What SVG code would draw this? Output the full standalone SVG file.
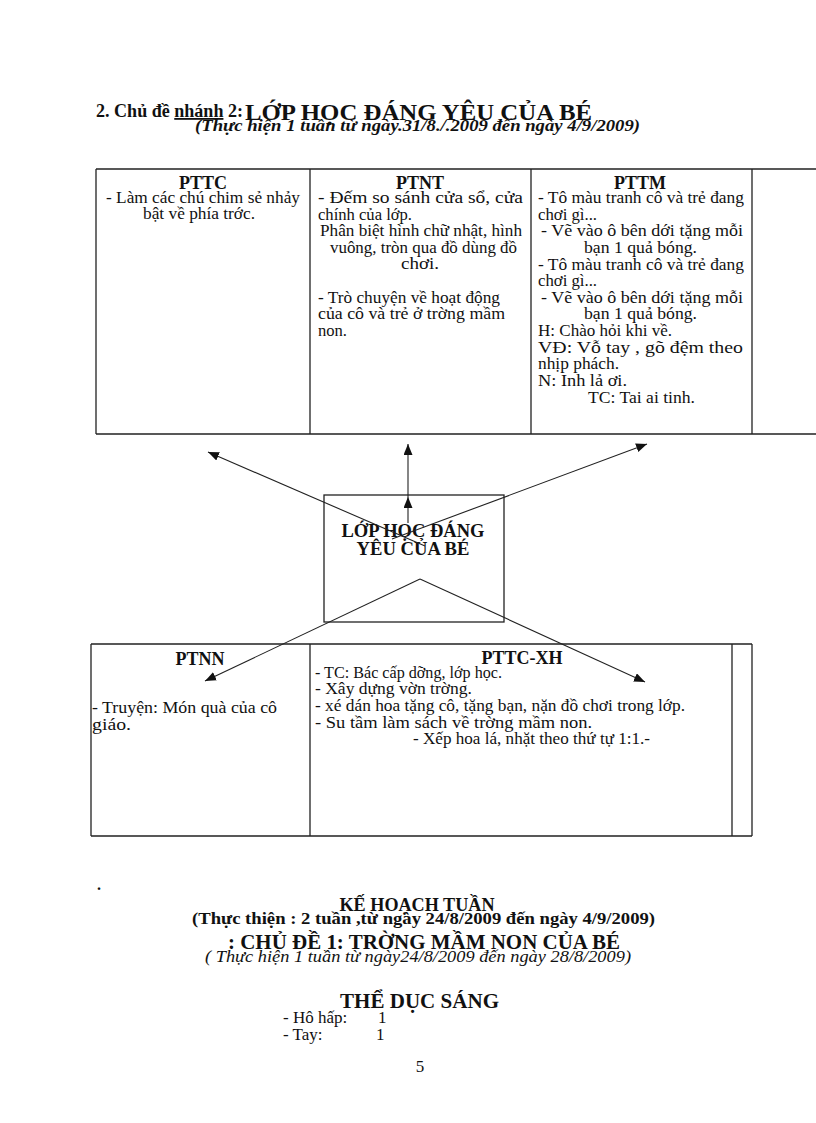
<svg xmlns="http://www.w3.org/2000/svg" width="816" height="1123" viewBox="0 0 816 1123">
<style>
.t{font-family:"Liberation Serif","Times New Roman",serif;font-size:16px;fill:#111}
.h{font-family:"Liberation Serif","Times New Roman",serif;font-weight:bold;fill:#111}
.i{font-family:"Liberation Serif","Times New Roman",serif;font-style:italic;fill:#111}
.n{font-family:"Liberation Serif","Times New Roman",serif;font-size:17px;fill:#111}
.b{fill:none;stroke:#222;stroke-width:1.3}
.c{stroke:#222;stroke-width:1.1;fill:none}
</style>
<defs>
<marker id="ah" markerUnits="userSpaceOnUse" markerWidth="12" markerHeight="10" refX="11" refY="4.5" orient="auto">
<path d="M0,0 L11,4.5 L0,9 Z" fill="#111"/>
</marker>
</defs>
<rect width="816" height="1123" fill="#fff"/>

<g id="title">
<text class="h" x="96" y="117" font-size="18" textLength="147" lengthAdjust="spacingAndGlyphs">2. Chủ đề <tspan text-decoration="underline">nhánh</tspan> 2:</text>
<text class="h" x="245" y="120" font-size="24" textLength="347" lengthAdjust="spacingAndGlyphs">LỚP HỌC ĐÁNG YÊU CỦA BÉ</text>
<text class="i" x="195" y="131" font-size="17" font-weight="bold" textLength="445" lengthAdjust="spacingAndGlyphs">(Thực hiện 1 tuần từ ngày.31/8./.2009  đến ngày  4/9/2009)</text>
</g>

<g id="top-table">
<path class="b" d="M96,169 H816 M96,434 H816 M96,169 V434 M310,169 V434 M531,169 V434 M752,169 V434"/>
</g>

<g id="node-pttc">
<text class="h" x="203" y="189" font-size="18" text-anchor="middle">PTTC</text>
<text class="t" x="106" y="203" textLength="194" lengthAdjust="spacingAndGlyphs">- Làm các chú chim sẻ nhảy</text>
<text class="t" x="143" y="219" textLength="112" lengthAdjust="spacingAndGlyphs">bật về phía trớc.</text>
</g>

<g id="node-ptnt">
<text class="h" x="420" y="189" font-size="18" text-anchor="middle">PTNT</text>
<text class="t" x="318" y="203" textLength="205" lengthAdjust="spacingAndGlyphs">- Đếm  so  sánh  cửa  sổ,  cửa</text>
<text class="t" x="318" y="220" textLength="94" lengthAdjust="spacingAndGlyphs">chính của lớp.</text>
<text class="t" x="320" y="236" textLength="202" lengthAdjust="spacingAndGlyphs">Phân biệt hình chữ nhật, hình</text>
<text class="t" x="330" y="253" textLength="187" lengthAdjust="spacingAndGlyphs">vuông, tròn qua đồ dùng đồ</text>
<text class="t" x="401" y="269" textLength="38" lengthAdjust="spacingAndGlyphs">chơi.</text>
<text class="t" x="318" y="303" textLength="182" lengthAdjust="spacingAndGlyphs">- Trò chuyện về hoạt động</text>
<text class="t" x="318" y="319" textLength="187" lengthAdjust="spacingAndGlyphs">của cô và trẻ ở trờng    mầm</text>
<text class="t" x="318" y="336" textLength="29" lengthAdjust="spacingAndGlyphs">non.</text>
</g>

<g id="node-pttm">
<text class="h" x="640" y="189" font-size="18" text-anchor="middle">PTTM</text>
<text class="t" x="538" y="203" textLength="206" lengthAdjust="spacingAndGlyphs">- Tô màu tranh cô và trẻ đang</text>
<text class="t" x="538" y="220" textLength="59" lengthAdjust="spacingAndGlyphs">chơi gì...</text>
<text class="t" x="541" y="236" textLength="202" lengthAdjust="spacingAndGlyphs">- Vẽ vào ô bên dới   tặng mỗi</text>
<text class="t" x="584" y="253" textLength="113" lengthAdjust="spacingAndGlyphs">bạn 1 quả bóng.</text>
<text class="t" x="538" y="270" textLength="206" lengthAdjust="spacingAndGlyphs">- Tô màu tranh cô và trẻ đang</text>
<text class="t" x="538" y="286" textLength="59" lengthAdjust="spacingAndGlyphs">chơi gì...</text>
<text class="t" x="541" y="303" textLength="202" lengthAdjust="spacingAndGlyphs">- Vẽ vào ô bên dới   tặng mỗi</text>
<text class="t" x="584" y="319" textLength="113" lengthAdjust="spacingAndGlyphs">bạn 1 quả bóng.</text>
<text class="t" x="538" y="336" textLength="134" lengthAdjust="spacingAndGlyphs">H: Chào hỏi khi về.</text>
<text class="t" x="538" y="353" textLength="205" lengthAdjust="spacingAndGlyphs">VĐ:  Vỗ  tay  ,  gõ  đệm  theo</text>
<text class="t" x="538" y="369" textLength="81" lengthAdjust="spacingAndGlyphs">nhịp phách.</text>
<text class="t" x="538" y="386" textLength="89" lengthAdjust="spacingAndGlyphs">N: Inh lả ơi.</text>
<text class="t" x="588" y="403" textLength="107" lengthAdjust="spacingAndGlyphs">TC: Tai ai tinh.</text>
</g>

<g id="node-center">
<rect class="b" x="324" y="495" width="180" height="127"/>
<text class="h" x="413" y="537" font-size="18" text-anchor="middle" textLength="143" lengthAdjust="spacingAndGlyphs">LỚP HỌC ĐÁNG</text>
<text class="h" x="413" y="555" font-size="18" text-anchor="middle" textLength="113" lengthAdjust="spacingAndGlyphs">YÊU CỦA BÉ</text>
</g>

<g id="bottom-table">
<path class="b" d="M91,644 H752 M91,836 H752 M91,644 V836 M310,644 V836 M732,644 V836 M752,644 V836"/>
</g>

<g id="node-ptnn">
<text class="h" x="200" y="665" font-size="18" text-anchor="middle">PTNN</text>
<text class="t" x="92" y="713" textLength="185" lengthAdjust="spacingAndGlyphs">- Truyện: Món quà của cô</text>
<text class="t" x="92" y="730" textLength="39" lengthAdjust="spacingAndGlyphs">giáo.</text>
</g>

<g id="node-pttcxh">
<text class="h" x="522" y="664" font-size="18" text-anchor="middle">PTTC-XH</text>
<text class="t" x="315" y="678" textLength="187" lengthAdjust="spacingAndGlyphs">- TC: Bác cấp dỡng,    lớp học.</text>
<text class="t" x="315" y="694" textLength="157" lengthAdjust="spacingAndGlyphs">- Xây dựng  vờn    trờng.</text>
<text class="t" x="315" y="711" textLength="370" lengthAdjust="spacingAndGlyphs">- xé dán hoa tặng cô, tặng bạn, nặn đồ chơi trong lớp.</text>
<text class="t" x="315" y="728" textLength="277" lengthAdjust="spacingAndGlyphs">- Su    tầm làm sách về trờng    mầm non.</text>
<text class="t" x="413" y="744" textLength="237" lengthAdjust="spacingAndGlyphs">- Xếp hoa lá, nhặt theo thứ tự 1:1.-</text>
</g>

<g id="connectors">
<line class="c" x1="425" y1="546" x2="208" y2="452" marker-end="url(#ah)"/>
<line class="c" x1="392" y1="539" x2="647" y2="444" marker-end="url(#ah)"/>
<line class="c" x1="408" y1="523" x2="408" y2="497" marker-end="url(#ah)"/>
<line class="c" x1="408" y1="497" x2="408" y2="444" marker-end="url(#ah)"/>
<line class="c" x1="420" y1="579" x2="205" y2="681" marker-end="url(#ah)"/>
<line class="c" x1="420" y1="579" x2="645" y2="682" marker-end="url(#ah)"/>
</g>

<g id="footer">
<text class="h" x="97" y="890" font-size="16">.</text>
<text class="h" x="417" y="911" font-size="19" text-anchor="middle" textLength="155" lengthAdjust="spacingAndGlyphs">KẾ HOẠCH TUẦN</text>
<text class="h" x="192" y="924" font-size="17" textLength="463" lengthAdjust="spacingAndGlyphs">(Thực thiện : 2 tuần ,từ ngày 24/8/2009 đến ngày 4/9/2009)</text>
<text class="h" x="228" y="949" font-size="21" textLength="392" lengthAdjust="spacingAndGlyphs">: CHỦ ĐỀ 1: TRỜNG    MẦM NON CỦA BÉ</text>
<text class="i" x="205" y="962" font-size="17" textLength="426" lengthAdjust="spacingAndGlyphs">( Thực hiện 1 tuần từ ngày24/8/2009  đến ngày 28/8/2009)</text>
<text class="h" x="340" y="1008" font-size="20" textLength="159" lengthAdjust="spacingAndGlyphs">THỂ DỤC SÁNG</text>
<text class="n" x="283" y="1023">- Hô hấp:</text>
<text class="n" x="378" y="1023">1</text>
<text class="n" x="283" y="1040">- Tay:</text>
<text class="n" x="376" y="1040">1</text>
<text class="n" x="420" y="1072" text-anchor="middle">5</text>
</g>
</svg>
